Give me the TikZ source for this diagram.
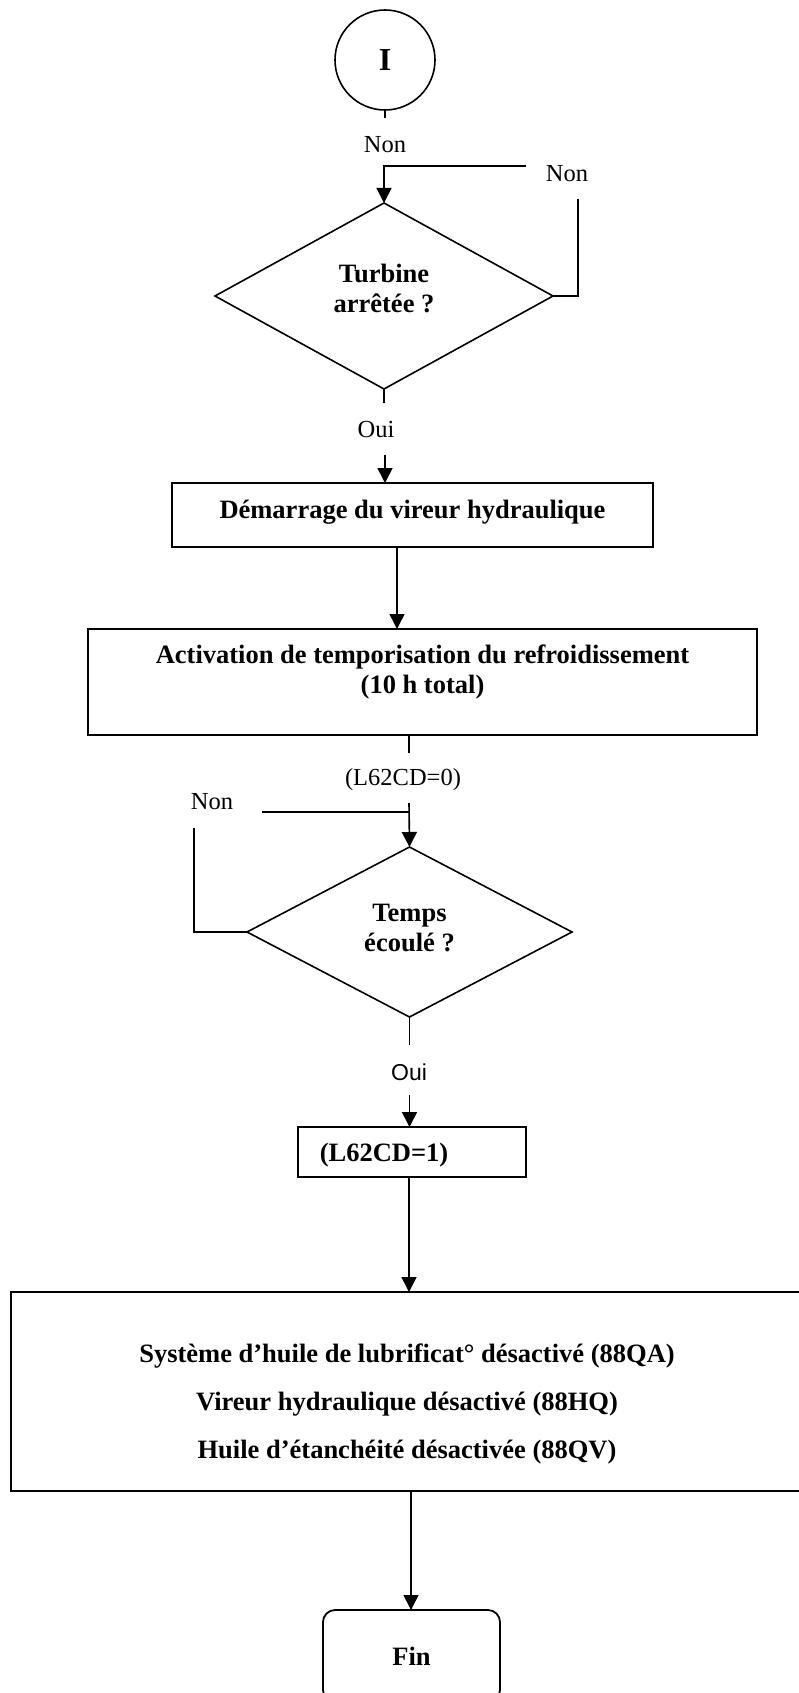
\documentclass[tikz,border=0pt]{standalone}
\usepackage{fontspec}
\setmainfont{Liberation Serif}
\newfontfamily\labelsans{Liberation Sans}
\usetikzlibrary{shapes.geometric,arrows.meta}

\begin{document}
\begin{tikzpicture}[x=1pt,y=-1pt,
  line width=1.6pt,
  arr/.style={-{Triangle[length=15pt,width=15pt]}},
  box/.style={draw,rectangle,inner sep=0pt,outer sep=0pt,line width=1.8pt},
  decision/.style={draw,diamond,inner sep=0pt,outer sep=0pt,line width=1.6pt},
  btxt/.style={font=\fontsize{26.5}{30}\selectfont\bfseries,align=center,inner sep=0pt},
  rtxt/.style={font=\fontsize{24.5}{28}\selectfont,inner sep=0pt},
]
\useasboundingbox (0,0) rectangle (798,1693);

% start connector
\node[draw,circle,minimum size=100pt,inner sep=0pt,outer sep=0pt,
      font=\fontsize{32}{32}\selectfont\bfseries] (start) at (385,60) {I};
\coordinate (s1) at (385,118);
\draw (start.south) -- (s1);
\node[rtxt] (non1) at (385,145) {Non};

% first decision with its loop back
\coordinate (j1) at (384,166);
\coordinate (j1r) at (526,166);
\node[decision,minimum width=338pt,minimum height=186pt] (d1) at (384,296) {};
\node[btxt] (t1) at (384,288) {Turbine\\arrêtée ?};
\draw[arr] (j1r) -- (j1) -- (d1.north);
\coordinate (r1) at (578,199);
\draw (d1.east) -| (r1);
\node[rtxt] (non2) at (567,174) {Non};

% yes branch
\coordinate (s2) at (384,403);
\draw (d1.south) -- (s2);
\node[rtxt] (oui1) at (376,430) {Oui};
\coordinate (a1) at (385,455);
\node[box,minimum width=481pt,minimum height=64pt] (b1) at (412.5,515) {};
\node[btxt] (t2) at (412.5,512) {Démarrage du vireur hydraulique};
\draw[arr] (a1) -- (a1 |- b1.north);

% cooling timer
\node[box,minimum width=669pt,minimum height=106pt] (b2) at (422.5,682) {};
\node[btxt] (t3) at (422.5,672) {Activation de temporisation du refroidissement\\(10 h total)};
\coordinate (a2) at (397,0);
\draw[arr] (a2 |- b1.south) -- (a2 |- b2.north);

% second decision with its loop back
\coordinate (x3) at (409,0);
\coordinate (s3) at (409,753);
\draw (x3 |- b2.south) -- (s3);
\node[rtxt] (l0) at (403,780) {(L62CD=0)};
\coordinate (j2) at (409,812);
\coordinate (j2l) at (262,812);
\coordinate (a3) at (409,803);
\node[decision,minimum width=325pt,minimum height=170pt] (d2) at (409.5,932) {};
\node[btxt] (t4) at (409.5,928) {Temps\\écoulé ?};
\draw[arr] (a3) -- (d2.north);
\draw (j2l) -- (j2);
\coordinate (r2) at (194,828);
\draw (d2.west) -| (r2);
\node[rtxt] (non3) at (212,802) {Non};

% yes branch
\coordinate (s4) at (409.5,1045);
\draw (d2.south) -- (s4);
\node[font=\labelsans\fontsize{23}{26}\selectfont,inner sep=0pt] (oui2) at (409,1072) {Oui};
\coordinate (a4) at (409.5,1095);
\node[box,minimum width=228pt,minimum height=50pt] (b3) at (412,1152) {};
\node[btxt] (t5) at (384,1155) {(L62CD=1)};
\draw[arr] (a4) -- (a4 |- b3.north);

% shutdown actions
\node[box,line width=2.6pt,minimum width=792pt,minimum height=199pt] (b4) at (407,1391.5) {};
\node[font=\fontsize{26.5}{48}\selectfont\bfseries,align=center,inner sep=0pt] (t6) at (407,1404)
  {Système d’huile de lubrificat° désactivé (88QA)\\
   Vireur hydraulique désactivé (88HQ)\\
   Huile d’étanchéité désactivée (88QV)};
\draw[arr] (x3 |- b3.south) -- (x3 |- b4.north);

% end
\node[box,rounded corners=12pt,minimum width=177pt,minimum height=92pt,
      font=\fontsize{26.5}{30}\selectfont\bfseries] (fin) at (411.5,1656) {Fin};
\coordinate (x5) at (411,0);
\draw[arr] (x5 |- b4.south) -- (x5 |- fin.north);
\end{tikzpicture}
\end{document}
